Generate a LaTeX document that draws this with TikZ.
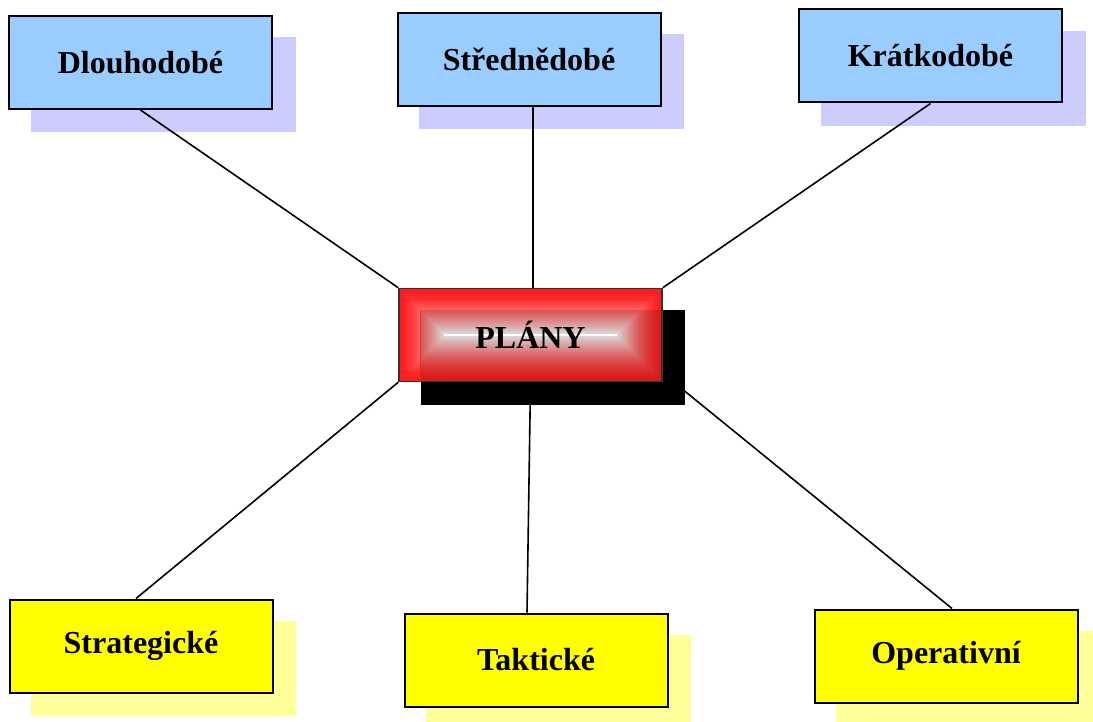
\documentclass[tikz,border=0pt]{standalone}
\usepackage{fontspec}
\setmainfont{Liberation Serif}

\pgfdeclarelayer{shade}
\pgfdeclarelayer{wires}
\pgfdeclarelayer{plangrad}
\pgfdeclarelayer{front}
\pgfsetlayers{shade,wires,main,plangrad,front}

\definecolor{boxblue}{HTML}{99CCFF}
\definecolor{shadeblue}{HTML}{CCCCFF}
\definecolor{boxyellow}{HTML}{FFFF00}
\definecolor{shadeyellow}{HTML}{FFFF99}
\definecolor{planred}{HTML}{FF1010}

\tikzset{
  card/.style={draw=black, line width=1pt, minimum width=131.5pt,
    minimum height=46.5pt, inner sep=0pt,
    font=\fontsize{16}{19}\selectfont\bfseries},
  timebox/.style={card, fill=boxblue},
  kindbox/.style={card, fill=boxyellow},
  planbox/.style={card, draw=black!80, line width=0.75pt},
  wire/.style={draw=black, line width=0.8pt},
}

% offset shadow behind a box
\newcommand\castshadow[2]{%
  \begin{pgfonlayer}{shade}
    \fill[#2] ([shift={(11.25pt,-11.25pt)}]#1.south west)
      rectangle ([shift={(11.25pt,-11.25pt)}]#1.north east);
  \end{pgfonlayer}}

\begin{document}
\begin{tikzpicture}[x=0.5pt, y=-0.5pt]
  \useasboundingbox (0,0) rectangle (1093,722);

  % time horizon boxes
  \node[timebox] (dl) at (140.5,62.5) {Dlouhodobé};
  \node[timebox] (st) at (529,59.5)  {Střednědobé};
  \node[timebox] (kr) at (930.5,56)  {Krátkodobé};
  \castshadow{dl}{shadeblue}
  \castshadow{st}{shadeblue}
  \castshadow{kr}{shadeblue}

  % level boxes
  \node[kindbox] (sg) at (141,646) {Strategické};
  \node[kindbox] (tk) at (536,660) {Taktické};
  \node[kindbox] (op) at (946,656) {Operativní};
  \castshadow{sg}{shadeyellow}
  \castshadow{tk}{shadeyellow}
  \castshadow{op}{shadeyellow}

  % central box
  \begin{pgfonlayer}{front}
    \node[planbox] (pl) at (530.5,335) {PLÁNY};
  \end{pgfonlayer}

  \begin{pgfonlayer}{plangrad}
    \fill[black] ([shift={(11.25pt,-11.25pt)}]pl.south west)
      rectangle ([shift={(11.25pt,-11.25pt)}]pl.north east);
    % rectangular gradient, red edge to white centre line
    \foreach \t in {0,...,45} {
      \pgfmathtruncatemacro\pct{96*(1-(\t/46)^1.6)}
      \fill[planred!\pct!white]
        ([shift={(\t*0.5pt,-\t*0.5pt)}]pl.north west)
        rectangle ([shift={(-\t*0.5pt,\t*0.5pt)}]pl.south east);
    }
    % the same gradient, darkened where the shadow lies underneath
    \begin{scope}
      \clip (pl.south east)
        rectangle ([shift={(11.25pt,-11.25pt)}]pl.north west);
      \foreach \t in {0,...,45} {
        \pgfmathtruncatemacro\pct{96*(1-(\t/46)^1.6)}
        \fill[planred!\pct!white!86!black]
          ([shift={(\t*0.5pt,-\t*0.5pt)}]pl.north west)
          rectangle ([shift={(-\t*0.5pt,\t*0.5pt)}]pl.south east);
      }
    \end{scope}
    \draw[white, line width=1.2pt]
      ([shift={(23pt,0pt)}]pl.west) -- ([shift={(-23pt,0pt)}]pl.east);
  \end{pgfonlayer}

  % connectors
  \begin{pgfonlayer}{wires}
    \draw[wire] (dl.south) -- (pl.north west);
    \draw[wire] ([xshift=2pt]st.south) -- ([xshift=2pt]st.south |- pl.north);
    \draw[wire] (kr.south) -- (pl.north east);
    \draw[wire] ([xshift=-2.5pt]sg.north) -- (pl.south west);
    \draw[wire] ([xshift=-4.5pt]tk.north) -- (pl.south);
    \draw[wire] ([xshift=3pt]op.north) -- ([xshift=8pt,yshift=-2pt]pl.south east);
  \end{pgfonlayer}
\end{tikzpicture}
\end{document}
